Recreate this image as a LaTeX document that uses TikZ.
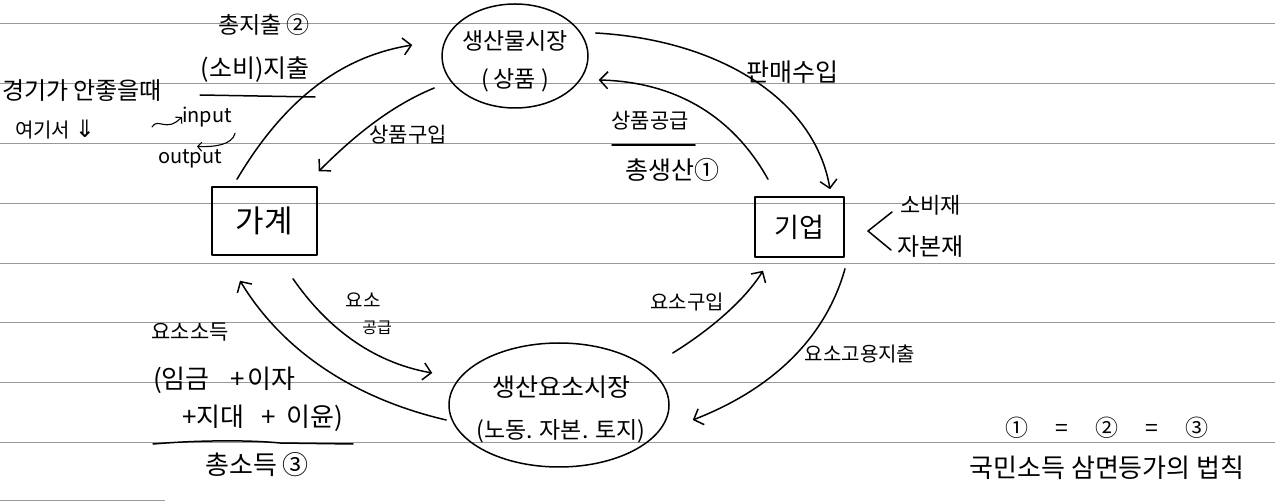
\documentclass[tikz,border=0pt]{standalone}
\usepackage{fontspec}
\setmainfont{Noto Sans CJK KR}
\newfontfamily\dejavu{DejaVu Sans}
\usetikzlibrary{arrows.meta,calc,shapes.geometric}
\newcommand\myfs[2]{\fontsize{#1}{#2}\selectfont}
\begin{document}
\begin{tikzpicture}[x=1pt,y=-1pt,
  rule/.style={draw=black!40, line width=0.7pt},
  hand/.style={line width=1.5pt, line cap=round, line join=round},
  arr/.style={hand, -{Straight Barb[length=8pt,width=17pt,line width=1.5pt]}},
  smallarr/.style={line width=1.1pt, line cap=round, -{Straight Barb[length=4pt,width=9pt,line width=1.1pt]}},
  boxs/.style={draw, hand, rectangle, inner sep=0pt},
  ell/.style={draw, hand, ellipse, inner sep=0pt},
  lbl/.style={inner sep=0pt, text=black}
]
\useasboundingbox (0,0) rectangle (1275,502);
\fill[white] (0,0) rectangle (1275,502);
% ruled paper
\foreach \yy in {23,83,143,203,263,322,382,442} \draw[rule] (0,\yy) -- (1275,\yy);
\draw[rule] (0,500) -- (165,500);

% main nodes
\node[ell, minimum width=146pt, minimum height=104pt] (mkt) at (515,56) {};
\node[lbl, align=center, font=\myfs{23}{38}] (mktt) at ($(mkt.center)+(0,5)$) {생산물시장\\(\hspace{5pt}상품\hspace{5pt})};
\node[ell, minimum width=220pt, minimum height=124pt] (fmkt) at (559,405) {};
\node[lbl, align=center, font=\myfs{23}{42}] (fmktt) at ($(fmkt.center)+(2,4)$) {{\myfs{25}{42}생산요소시장}\\(노동. 자본. 토지)};
\node[boxs, minimum width=105pt, minimum height=68pt, font=\myfs{31}{34}] (gagye) at (264.5,221) {가계};
\node[boxs, minimum width=89pt, minimum height=60pt, font=\myfs{27}{30}] (giup) at (799.5,227) {기업};

% flows
\draw[arr] ($(gagye.north)+(-27.5,-7)$) .. controls (290,90) and (350,55) .. ($(mkt.west)+(-29,-11)$);
\draw[arr] ($(mkt.west)+(-7,32)$) .. controls (385,108) and (345,145) .. ($(gagye.north east)+(1,-15)$);
\draw[arr] ($(mkt.east)+(7,-23)$) .. controls (720,40) and (815,100) .. ($(giup.north)+(30.5,-7)$);
\draw[arr] ($(giup.north)+(-31.5,-17)$) .. controls (735,120) and (680,82) .. ($(mkt.east)+(10,24)$);
\draw[arr] ($(giup.south)+(45.5,11)$) .. controls (825,340) and (770,390) .. ($(fmkt.east)+(23,15)$);
\draw[arr] ($(fmkt.east)+(3,-52)$) .. controls (710,330) and (745,300) .. ($(giup.south)+(-36.5,13)$);
\draw[arr] ($(gagye.south)+(28.5,23)$) .. controls (325,325) and (370,362) .. ($(fmkt.west)+(-16,-32)$);
\draw[arr] ($(fmkt.west)+(-2,15)$) .. controls (360,400) and (285,355) .. ($(gagye.south)+(-24.5,25)$);

% labels, upper left
\node[lbl, font=\myfs{23}{27}] (tot2) at (264,25) {총지출 ②};
\node[lbl, font=\myfs{25}{29}] (cons) at (255,70) {(소비)지출};
\draw[hand] (200,95) -- (315,97);
\node[lbl, font=\myfs{24}{28}] (bad) at (82,91) {경기가 안좋을때};
\node[lbl, font=\myfs{20}{24}, anchor=west] (here) at (15,130) {여기서 {\dejavu\myfs{24}{24}⇓}};
\coordinate (sq) at (152,127);
\node[lbl, font=\myfs{20}{24}] (inp) at (207,117) {input};
\node[lbl, font=\myfs{20}{24}] (outp) at (190,159) {output};
\draw[smallarr] (sq) .. controls (158,117) and (166,133) .. (inp.west);
\draw[smallarr] ($(inp.south east)+(3,6)$) .. controls (232,145) and (215,147) .. ($(outp.north)+(7,-3)$);

% labels, upper right
\node[lbl, font=\myfs{21}{25}] (buy) at (408,135) {상품구입};
\node[lbl, font=\myfs{25}{29}] (rev) at (792,72) {판매수입};
\node[lbl, font=\myfs{21}{25}] (sup) at (650,121) {상품공급};
\draw[hand] (612,145) -- (695,145);
\node[lbl, font=\myfs{25}{29}] (tot1) at (672,170) {총생산①};
\node[lbl, font=\myfs{22}{26}, anchor=west] (cg) at (900,205) {소비재};
\node[lbl, font=\myfs{24}{28}, anchor=west] (kg) at (897,247) {자본재};
\draw[hand] (892,212) -- (868,231) -- (891,250);

% labels, lower part
\node[lbl, font=\myfs{19}{23}] (fs1) at (363,300) {요소};
\node[lbl, font=\myfs{16}{20}] (fs2) at (377,328) {공급};
\node[lbl, font=\myfs{20}{24}] (fbuy) at (687,302) {요소구입};
\node[lbl, font=\myfs{20}{24}] (femp) at (860,354) {요소고용지출};
\node[lbl, font=\myfs{21}{25}] (finc) at (190,332) {요소소득};
\node[lbl, font=\myfs{26}{30}, anchor=west] (w1) at (153,380) {(임금\hspace{21pt}+\hspace{2pt}이자};
\node[lbl, font=\myfs{26}{30}, anchor=west] (w2) at (182,418) {+지대\hspace{17pt}+\hspace{11pt}이윤)};
\draw[hand] (153,444) .. controls (200,440) and (250,440) .. (280,443) -- (353,444);
\node[lbl, font=\myfs{26}{30}] (tot3) at (257,465) {총소득 ③};
\node[lbl, font=\myfs{23}{27}] (eq) at (1107,428) {①\hspace{27pt}=\hspace{27pt}②\hspace{27pt}=\hspace{27pt}③};
\node[lbl, font=\myfs{26}{30}] (law) at (1107,468) {국민소득 삼면등가의 법칙};
\end{tikzpicture}
\end{document}
